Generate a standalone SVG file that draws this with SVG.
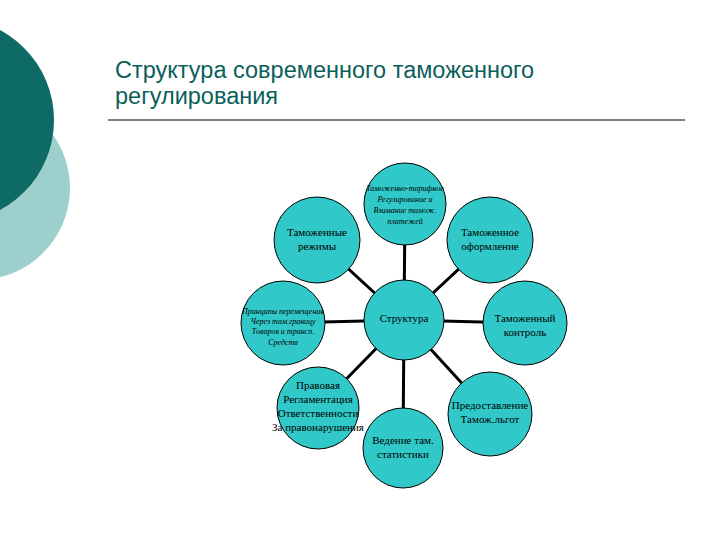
<svg xmlns="http://www.w3.org/2000/svg" width="720" height="540" viewBox="0 0 720 540">
<style>
.node{fill:#30c8c8;stroke:#000;stroke-width:1}
.t{font-family:"Liberation Serif",serif;font-size:11px;fill:#000;text-anchor:middle}
.s{font-family:"Liberation Serif",serif;font-size:8px;font-style:italic;fill:#000;text-anchor:middle}
.title{font-family:"Liberation Sans",Arial,sans-serif;font-size:23.5px;fill:#0b5f5a}
#connectors line{stroke:#000;stroke-width:3}
</style>
<rect width="720" height="540" fill="#fff"/>
<circle cx="-22" cy="188" r="92" fill="#9dcfcc"/>
<circle cx="-48" cy="120" r="102" fill="#0d6a64"/>
<text class="title" x="115" y="78">Структура современного таможенного</text>
<text class="title" x="115" y="104">регулирования</text>
<line x1="108" y1="120" x2="685" y2="120" stroke="#000" stroke-width="1"/>
<g id="connectors">
<line x1="404" y1="320" x2="405" y2="204"/>
<line x1="404" y1="320" x2="317" y2="240"/>
<line x1="404" y1="320" x2="490" y2="240"/>
<line x1="404" y1="320" x2="283" y2="323"/>
<line x1="404" y1="320" x2="525" y2="323"/>
<line x1="404" y1="320" x2="318" y2="408"/>
<line x1="404" y1="320" x2="403" y2="448"/>
<line x1="404" y1="320" x2="490" y2="414"/>
</g>
<g id="n-tarif"><circle class="node" cx="405" cy="204" r="41"/>
<text class="s" x="405" y="191">Таможенно-тарифное</text>
<text class="s" x="405" y="202">Регулирование и</text>
<text class="s" x="405" y="213">Взимание тамож.</text>
<text class="s" x="405" y="224">платежей</text></g>
<g id="n-rezhimy"><circle class="node" cx="317" cy="240" r="43"/>
<text class="t" x="317" y="236">Таможенные</text>
<text class="t" x="317" y="250">режимы</text></g>
<g id="n-oform"><circle class="node" cx="490" cy="240" r="43"/>
<text class="t" x="490" y="236">Таможенное</text>
<text class="t" x="490" y="250">оформление</text></g>
<g id="n-perem"><circle class="node" cx="283" cy="323" r="42"/>
<text class="s" x="283" y="314">Принципы перемещения</text>
<text class="s" x="283" y="324">Через там.границу</text>
<text class="s" x="283" y="334">Товаров и трансп.</text>
<text class="s" x="283" y="345">Средств</text></g>
<g id="n-struct"><circle class="node" cx="404" cy="320" r="40"/>
<text class="t" x="404" y="322">Структура</text></g>
<g id="n-kontrol"><circle class="node" cx="525" cy="323" r="42"/>
<text class="t" x="525" y="322">Таможенный</text>
<text class="t" x="525" y="336">контроль</text></g>
<g id="n-pravo"><circle class="node" cx="318" cy="408" r="41"/>
<text class="t" x="318" y="389">Правовая</text>
<text class="t" x="318" y="403">Регламентация</text>
<text class="t" x="318" y="417">Ответственности</text>
<text class="t" x="318" y="431">За правонарушения</text></g>
<g id="n-stat"><circle class="node" cx="403" cy="448" r="40"/>
<text class="t" x="403" y="444">Ведение там.</text>
<text class="t" x="403" y="458">статистики</text></g>
<g id="n-lgoty"><circle class="node" cx="490" cy="414" r="42"/>
<text class="t" x="490" y="409">Предоставление</text>
<text class="t" x="490" y="423">Тамож.льгот</text></g>
</svg>
